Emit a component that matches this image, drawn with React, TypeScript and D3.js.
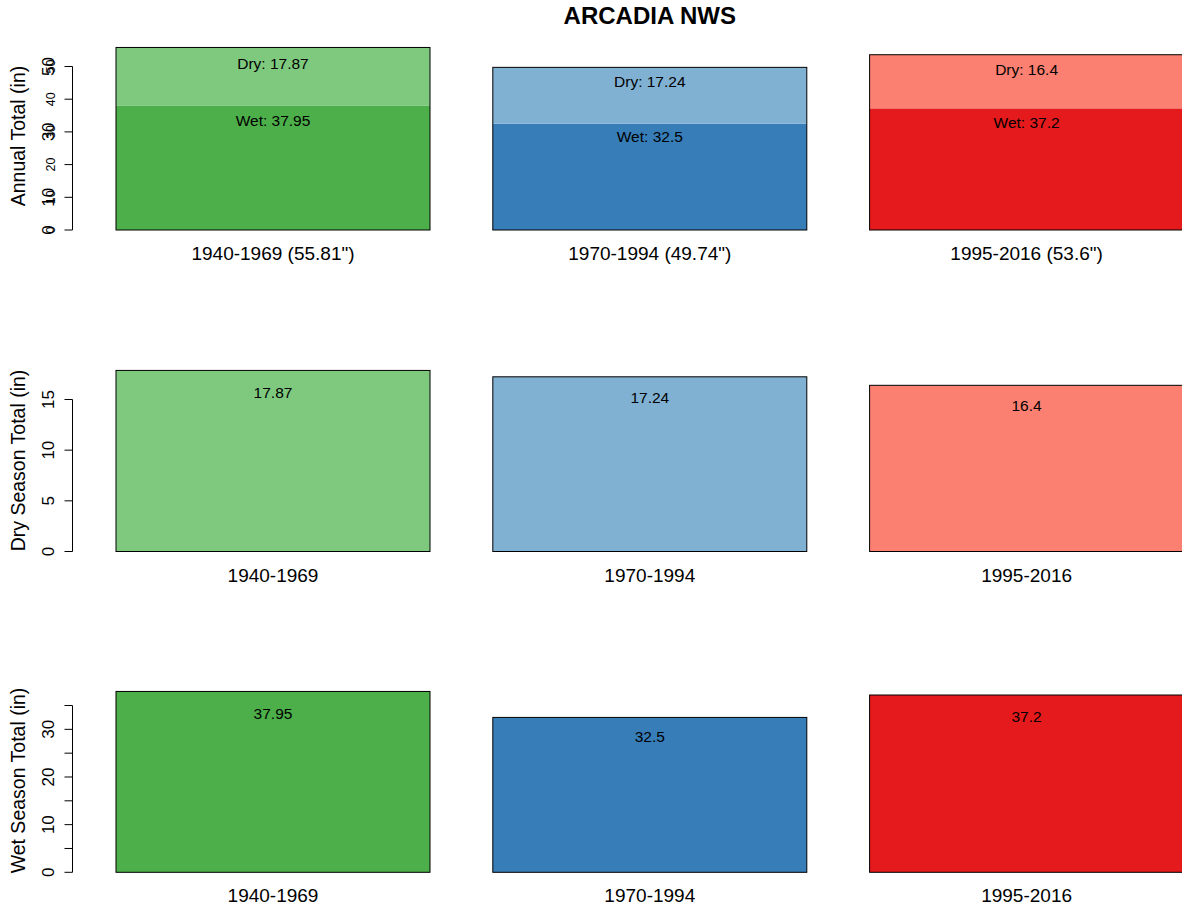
import React from "react";
import * as d3 from "d3";

const periods = ["1940-1969", "1970-1994", "1995-2016"];
const annualTotals = [55.81, 49.74, 53.6];
const dryTotals = [17.87, 17.24, 16.4];
const wetTotals = [37.95, 32.5, 37.2];
const darkColors = ["#4DAF4A", "#377EB8", "#E41A1C"];
const lightColors = ["#7FC97F", "#80B1D3", "#FB8072"];
const annualTicks = [0, 10, 20, 30, 40, 50];
const annualBigTicks = [0, 10, 30, 50];
const dryTicks = [0, 5, 10, 15];
const wetTicks = [0, 5, 10, 15, 20, 25, 30, 35];
const wetLabeledTicks = [0, 10, 20, 30];

const W = 1182;
const H = 909;
const FONT = "'Liberation Sans', Arial, Helvetica, sans-serif";
const AXIS_X = 72.5;
const VAL_FS = 15.5;

const x = d3.scaleLinear().domain([0.064, 3.736]).range([73.3, 1226.3]);
const barLeft = (i: number) => 0.2 + i * 1.2;

type Panel = {
  y: d3.ScaleLinear<number, number>;
  title: string;
  titleY: number;
  ticks: number[];
  labeled: number[];
};

const y1 = d3.scaleLinear().domain([0, 50]).range([230, 66.5]);
const y2 = d3.scaleLinear().domain([0, 15]).range([551.5, 399.5]);
const y3 = d3.scaleLinear().domain([0, 35]).range([872.3, 705.5]);

function Axis({ p, bigTicks, smallTicks }: { p: Panel; bigTicks: number[]; smallTicks?: number[] }) {
  const ticks = p.ticks;
  return (
    <g>
      <line x1={AXIS_X} x2={AXIS_X} y1={p.y(ticks[0])} y2={p.y(ticks[ticks.length - 1])} stroke="#000" strokeWidth={1} />
      {ticks.map((t) => (
        <line key={"t" + t} x1={AXIS_X - 8} x2={AXIS_X} y1={p.y(t)} y2={p.y(t)} stroke="#000" strokeWidth={1} />
      ))}
      {smallTicks &&
        smallTicks.map((t) => (
          <text key={"s" + t} transform={`translate(55,${p.y(t)}) rotate(-90)`} textAnchor="middle" fontSize={12.5} fontFamily={FONT}>
            {t}
          </text>
        ))}
      {bigTicks.map((t) => (
        <text key={"b" + t} transform={`translate(54,${p.y(t)}) rotate(-90)`} textAnchor="middle" fontSize={17} fontFamily={FONT}>
          {t}
        </text>
      ))}
      <text transform={`translate(25,${p.titleY}) rotate(-90)`} textAnchor="middle" fontSize={19.5} fontFamily={FONT}>
        {p.title}
      </text>
    </g>
  );
}

export default function App() {
  const p1: Panel = { y: y1, title: "Annual Total (in)", titleY: 136, ticks: annualTicks, labeled: annualBigTicks };
  const p2: Panel = { y: y2, title: "Dry Season Total (in)", titleY: 460.5, ticks: dryTicks, labeled: dryTicks };
  const p3: Panel = { y: y3, title: "Wet Season Total (in)", titleY: 780.5, ticks: wetTicks, labeled: wetLabeledTicks };
  const bw = x(1.2) - x(0.2);

  return (
    <svg width={W} height={H} style={{ position: "absolute", left: 0, top: 0, background: "#fff" }}>
      <rect width={W} height={H} fill="#fff" />
      <text x={x(1.9)} y={23.5} textAnchor="middle" fontSize={24} fontWeight="bold" fontFamily={FONT}>
        ARCADIA NWS
      </text>

      {/* Panel 1: stacked annual */}
      {periods.map((per, i) => {
        const xl = x(barLeft(i));
        const wet = wetTotals[i];
        const dry = dryTotals[i];
        return (
          <g key={"a" + i}>
            <rect x={xl} y={y1(wet)} width={bw} height={y1(0) - y1(wet)} fill={darkColors[i]} />
            <rect x={xl} y={y1(wet + dry)} width={bw} height={y1(wet) - y1(wet + dry)} fill={lightColors[i]} />
            <rect x={xl} y={y1(wet + dry)} width={bw} height={y1(0) - y1(wet + dry)} fill="none" stroke="#000" strokeWidth={1} />
            <text x={xl + bw / 2} y={y1(annualTotals[i] * 0.915) + 5.5} textAnchor="middle" fontSize={VAL_FS} fontFamily={FONT}>
              {`Dry: ${dry}`}
            </text>
            <text x={xl + bw / 2} y={y1(wet * 0.88) + 5.5} textAnchor="middle" fontSize={VAL_FS} fontFamily={FONT}>
              {`Wet: ${wet}`}
            </text>
            <text x={xl + bw / 2} y={y1(0) + 30} textAnchor="middle" fontSize={19} fontFamily={FONT}>
              {`${per} (${annualTotals[i]}")`}
            </text>
          </g>
        );
      })}
      <Axis p={p1} bigTicks={annualBigTicks} smallTicks={annualTicks} />

      {/* Panel 2: dry */}
      {periods.map((per, i) => {
        const xl = x(barLeft(i));
        const v = dryTotals[i];
        return (
          <g key={"d" + i}>
            <rect x={xl} y={y2(v)} width={bw} height={y2(0) - y2(v)} fill={lightColors[i]} stroke="#000" strokeWidth={1} />
            <text x={xl + bw / 2} y={y2(v * 0.88) + 5.5} textAnchor="middle" fontSize={VAL_FS} fontFamily={FONT}>
              {v}
            </text>
            <text x={xl + bw / 2} y={y2(0) + 30} textAnchor="middle" fontSize={19} fontFamily={FONT}>
              {per}
            </text>
          </g>
        );
      })}
      <Axis p={p2} bigTicks={dryTicks} />

      {/* Panel 3: wet */}
      {periods.map((per, i) => {
        const xl = x(barLeft(i));
        const v = wetTotals[i];
        return (
          <g key={"w" + i}>
            <rect x={xl} y={y3(v)} width={bw} height={y3(0) - y3(v)} fill={darkColors[i]} stroke="#000" strokeWidth={1} />
            <text x={xl + bw / 2} y={y3(v * 0.88) + 5.5} textAnchor="middle" fontSize={VAL_FS} fontFamily={FONT}>
              {v}
            </text>
            <text x={xl + bw / 2} y={y3(0) + 30} textAnchor="middle" fontSize={19} fontFamily={FONT}>
              {per}
            </text>
          </g>
        );
      })}
      <Axis p={p3} bigTicks={wetLabeledTicks} />
    </svg>
  );
}
